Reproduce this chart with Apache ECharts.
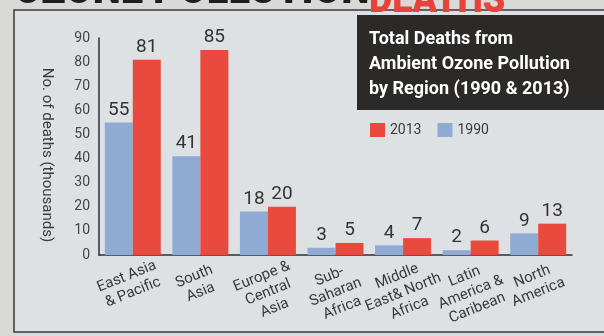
<!DOCTYPE html>
<html><head><meta charset="utf-8">
<script src="https://cdn.jsdelivr.net/npm/echarts@6/dist/echarts.min.js"></script>
<style>html,body{margin:0;padding:0;background:#d9dad7;}#c{width:604px;height:336px;}</style>
</head><body><div id="c"></div>
<script>
const categories = ["East Asia\n& Pacific", "South\nAsia", "Europe &\nCentral\nAsia", "Sub-\nSaharan\nAfrica", "Middle\nEast& North\nAfrica", "Latin\nAmerica &\nCaribean", "North\nAmerica"];
const deaths1990 = [55, 41, 18, 3, 4, 2, 9];
const deaths2013 = [81, 85, 20, 5, 7, 6, 13];
const seriesNames = ["1990", "2013"];
const yTicks = {min: 0, max: 90, interval: 10};

const FONT = "Roboto,'Liberation Sans',sans-serif";
const chart = echarts.init(document.getElementById('c'));
chart.setOption({
  animation: false,
  backgroundColor: '#d9dad7',
  textStyle: {fontFamily: FONT},
  graphic: [
    {type: 'rect', z: -10, shape: {x: 14, y: 10, width: 600, height: 322}, style: {fill: '#dee1e3', stroke: '#3a3a3a', lineWidth: 1.5}},
    {type: 'text', z: -5, x: 14, y: -27, scaleX: 1.0, style: {text: 'OZONE POLLUTION', fill: '#1e1e1e', font: "900 40px " + FONT}},
    {type: 'text', z: -5, x: 369, y: -18, scaleX: 0.9, style: {text: 'DEATHS', fill: '#e8433a', font: "900 40px " + FONT}},
    {type: 'rect', z: 5, shape: {x: 357, y: 15, width: 252, height: 95}, style: {fill: '#2b2a29'}},
    {type: 'text', z: 6, x: 369, y: 27, style: {text: 'Total Deaths from\nAmbient Ozone Pollution\nby Region (1990 & 2013)', fill: '#ffffff', font: "bold 18px " + FONT, lineHeight: 25}},
    {type: 'text', z: 6, x: 47, y: 155, rotation: -Math.PI / 2, style: {text: 'No. of deaths (thousands)', fill: '#3a3a3a', font: "15px " + FONT, align: 'center', verticalAlign: 'middle'}}
  ],
  legend: {
    data: ['2013', '1990'], left: 365, top: 118, icon: 'rect', itemWidth: 15, itemHeight: 14, itemGap: 16, itemStyle: {borderWidth: 0},
    textStyle: {fontSize: 14, color: '#3a3a3a', fontFamily: FONT}
  },
  grid: {left: 99, right: 32, top: 38, bottom: 81, outerBoundsMode: 'none'},
  xAxis: {
    type: 'category', data: categories,
    axisLine: {lineStyle: {color: '#2a2f3a', width: 1.5}},
    axisTick: {show: false},
    axisLabel: {interval: 0, rotate: 22, align: 'center', verticalAlign: 'top', margin: 10, padding: [0, 20, 0, 0], fontSize: 15, lineHeight: 17, color: '#3a3a3a', fontFamily: FONT}
  },
  yAxis: {
    type: 'value', min: yTicks.min, max: yTicks.max, interval: yTicks.interval,
    axisLine: {show: true, lineStyle: {color: '#2a2f3a', width: 1.5}},
    axisTick: {show: false}, splitLine: {show: false},
    axisLabel: {fontSize: 14, color: '#444', margin: 9, fontFamily: FONT}
  },
  series: [
    {name: seriesNames[0], type: 'bar', data: deaths1990, barWidth: 28, barGap: '0%', itemStyle: {color: '#8fabd3'},
     label: {show: true, position: 'top', distance: 3, fontSize: 19, color: '#333', fontFamily: FONT}},
    {name: seriesNames[1], type: 'bar', data: deaths2013, barWidth: 28, barGap: '0%', itemStyle: {color: '#ea4a3d'},
     label: {show: true, position: 'top', distance: 3, fontSize: 19, color: '#333', fontFamily: FONT}}
  ]
});
</script></body></html>
